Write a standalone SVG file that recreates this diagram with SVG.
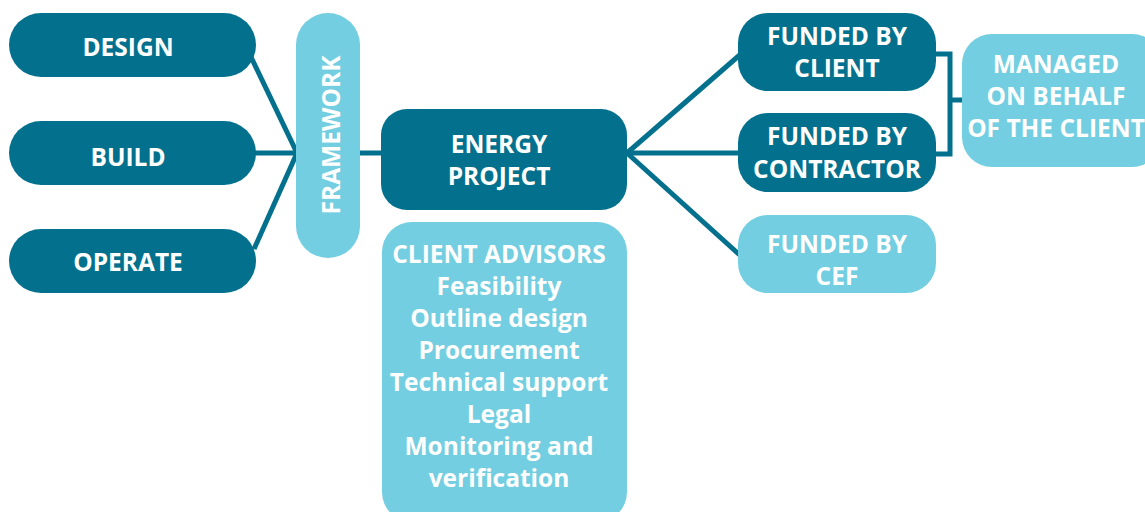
<svg xmlns="http://www.w3.org/2000/svg" width="1145" height="512" viewBox="0 0 1145 512">
<style>
.dk{fill:#03718D}
.lt{fill:#72CEE0}
text{font-family:"Open Sans","Liberation Sans",sans-serif;font-weight:700;font-size:24.5px;fill:#fff;text-anchor:middle}
.ln{stroke:#03718D;stroke-width:5;fill:none}
</style>
<rect width="1145" height="512" fill="#fff"/>
<g id="connectors">
<line class="ln" x1="251" y1="57" x2="297" y2="153"/>
<line class="ln" x1="250" y1="153" x2="297" y2="153"/>
<line class="ln" x1="254" y1="249" x2="297" y2="153"/>
<line class="ln" x1="355" y1="153" x2="385" y2="153"/>
<line class="ln" x1="627" y1="153" x2="742" y2="53"/>
<line class="ln" x1="627" y1="153" x2="742" y2="153"/>
<line class="ln" x1="627" y1="153" x2="742" y2="257"/>
<polyline class="ln" points="932,54 950,54 950,154 932,154"/>
<line class="ln" x1="950" y1="100" x2="966" y2="100"/>
</g>
<g id="design"><rect class="dk" x="9" y="13" width="247" height="64" rx="32"/><text x="128" y="56">DESIGN</text></g>
<g id="build"><rect class="dk" x="9" y="121" width="247" height="64" rx="32"/><text x="128" y="166">BUILD</text></g>
<g id="operate"><rect class="dk" x="9" y="229" width="247" height="64" rx="32"/><text x="128" y="271">OPERATE</text></g>
<g id="framework"><rect class="lt" x="296" y="13" width="64" height="245" rx="32"/><text transform="translate(340,135) rotate(-90)">FRAMEWORK</text></g>
<g id="energy"><rect class="dk" x="381" y="109" width="246" height="101" rx="26"/><text x="499" y="153">ENERGY</text><text x="499" y="185">PROJECT</text></g>
<g id="advisors"><rect class="lt" x="382" y="222" width="245" height="300" rx="30"/>
<text x="499" y="263">CLIENT ADVISORS</text>
<text x="499" y="295">Feasibility</text>
<text x="499" y="327">Outline design</text>
<text x="499" y="359">Procurement</text>
<text x="499" y="391">Technical support</text>
<text x="499" y="423">Legal</text>
<text x="499" y="455">Monitoring and</text>
<text x="499" y="487">verification</text></g>
<g id="client"><rect class="dk" x="738" y="13" width="198" height="78" rx="30"/><text x="837" y="45">FUNDED BY</text><text x="837" y="77">CLIENT</text></g>
<g id="contractor"><rect class="dk" x="738" y="113" width="198" height="79" rx="30"/><text x="837" y="145">FUNDED BY</text><text x="837" y="178">CONTRACTOR</text></g>
<g id="cef"><rect class="lt" x="738" y="215" width="198" height="78" rx="30"/><text x="837" y="253">FUNDED BY</text><text x="837" y="285">CEF</text></g>
<g id="managed"><rect class="lt" x="962" y="34" width="200" height="133" rx="30"/><text x="1056" y="73">MANAGED</text><text x="1056" y="105">ON BEHALF</text><text x="1056" y="137">OF THE CLIENT</text></g>
</svg>
